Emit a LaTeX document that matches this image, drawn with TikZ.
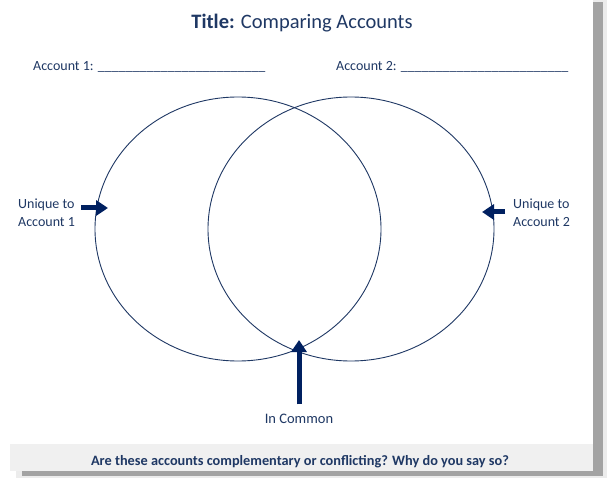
\documentclass[tikz,border=0pt]{standalone}
\usepackage{fontspec}
\setmainfont{Carlito}
\usetikzlibrary{arrows.meta}
\usetikzlibrary{calc}
\usepackage{xcolor}
\definecolor{navy}{HTML}{002060}
\definecolor{inktext}{HTML}{1F3864}
\definecolor{barfill}{HTML}{F0F0F0}
\definecolor{shadowgray}{HTML}{A3A3A3}
\definecolor{halo}{HTML}{ECECEC}
\newcommand{\blankline}{\_\_\_\_\_\_\_\_\_\_\_\_\_\_\_\_\_\_\_\_\_\_\_\_}

\begin{document}
\begin{tikzpicture}[x=1pt, y=-1pt,
 txt/.style={text=inktext, inner sep=0, font=\fontsize{14}{17.5}\selectfont},
 venn/.style={draw=inktext, line width=0.9pt},
 bigarrow/.style={navy, line width=5pt, -{Triangle[length=12pt,width=15pt]}}]
\useasboundingbox (0,0) rectangle (607,478);
% sheet with its shadow
\fill[halo] (16,0) rectangle (607,478);
\fill[shadowgray] (22,2) rectangle (603,476);
\fill[white] (0,0) rectangle (593,471);
\fill[barfill] (10,444) rectangle (593,471);
% heading and the two names
\node[txt, font=\fontsize{20.5}{24}\selectfont, anchor=base] (title) at (302,29) {\textbf{Title:} Comparing Accounts};
\node[txt, anchor=base west] (acc1) at (33,71) {Account 1: \blankline};
\node[txt, anchor=base west] (acc2) at (336,71) {Account 2: \blankline};
% the two circles
\draw[venn] (238,229) ellipse [x radius=143, y radius=132];
\draw[venn] (351,229) ellipse [x radius=143, y radius=132];
% labels and pointers
\node[txt, align=left, anchor=north west] (only1) at (18,199) {Unique to\\Account 1};
\node[txt, align=left, anchor=north west] (only2) at (513,199) {Unique to\\Account 2};
\node[txt, font=\fontsize{14.5}{17.5}\selectfont, anchor=base] (common) at (299,423) {In Common};
\coordinate (tip1) at (108,208);
\coordinate (tip2) at (482,212);
\coordinate (tip3) at (299,340);
\draw[bigarrow] ($(only1.east |- tip1)+(6,0)$) -- (tip1);
\draw[bigarrow] ($(only2.west |- tip2)+(-8,0)$) -- (tip2);
\draw[bigarrow, shorten <=9pt] (common.north) -- (tip3);
% closing question
\node[txt, font=\bfseries\fontsize{14.3}{17}\selectfont, anchor=base] (question) at (300,465) {Are these accounts complementary or conflicting? Why do you say so?};
\end{tikzpicture}
\end{document}
